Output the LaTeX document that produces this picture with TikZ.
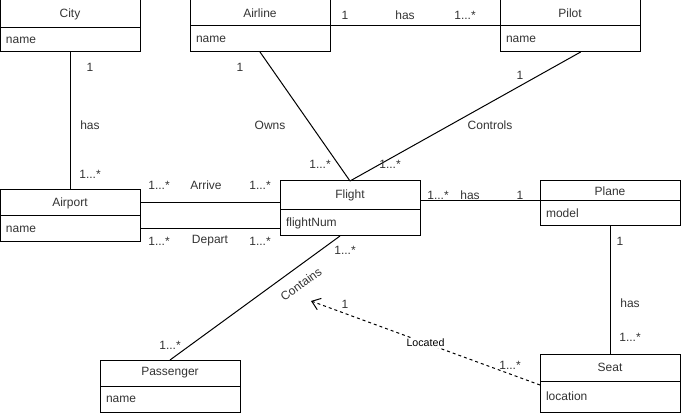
\documentclass[tikz,border=0pt]{standalone}
\usepackage{fontspec}
\setmainfont{Liberation Sans}
\usetikzlibrary{positioning,arrows.meta}

\tikzset{
  classhead/.style={draw, rectangle, minimum width=105pt, minimum height=19.5pt,
    inner sep=0pt, outer sep=0pt, anchor=north west},
  classbody/.style={draw, rectangle, minimum width=105pt, minimum height=19.5pt,
    text width=96pt, align=left, inner xsep=4.5pt, inner ysep=0pt, outer sep=0pt},
  assoc/.style={draw, line width=0.75pt},
}

\begin{document}
\begin{tikzpicture}[x=0.75pt, y=-0.75pt, line width=0.75pt,
    font=\fontsize{9}{11}\selectfont, text=black!80]
  \useasboundingbox (0,0) rectangle (681,416);

  % classes
  \draw (0,0) node[classhead, minimum height=21pt] (city) {City};
  \node[classbody, minimum height=18pt, below=0pt of city] (cityname) {name};
  \draw (190,0) node[classhead] (airline) {Airline};
  \node[classbody, below=0pt of airline] (airlinename) {name};
  \draw (500,0) node[classhead] (pilot) {Pilot};
  \node[classbody, below=0pt of pilot] (pilotname) {name};
  \draw (0,190) node[classhead] (airport) {Airport};
  \node[classbody, below=0pt of airport] (airportname) {name};
  \draw (280,181) node[classhead, minimum height=21.75pt] (flight) {Flight};
  \node[classbody, below=0pt of flight] (flightnum) {flightNum};
  \draw (540,181) node[classhead, minimum height=15pt] (plane) {Plane};
  \node[classbody, minimum height=18.75pt, below=0pt of plane] (planemodel) {model};
  \draw (100,360) node[classhead] (passenger) {Passenger};
  \node[classbody, below=0pt of passenger] (passengername) {name};
  \draw (540,354) node[classhead, minimum height=20.25pt] (seat) {Seat};
  \node[classbody, minimum height=23.25pt, below=0pt of seat] (seatloc) {location};

  % associations
  \path[assoc] (cityname) edge (airport);
  \path[assoc] (airline.south east) edge (pilot.south west);
  \path[assoc] (airlinename.south) edge (flight.north);
  \path[assoc] ([xshift=8pt]pilotname.south) edge (flight.north);
  \path[assoc] (airport.east) edge (airport.east -| flight.west);
  \path[assoc] (airportname.east) edge (airportname.east -| flight.west);
  \path[assoc] (plane.south west -| flight.east) edge (plane.south west);
  \path[assoc] (planemodel.south) edge (seat.north);
  \path[assoc] ([xshift=-7.5pt]flightnum.south) edge (passenger.north);

  \coordinate (lochead) at (311,301);
  \draw[dashed, dash pattern=on 2.25pt off 2.25pt,
        -{Straight Barb[length=6pt, width=9pt]}]
    ([yshift=-3pt]seat.south west) -- node[fill=white, inner sep=1pt, text=black,
      font=\fontsize{8}{10}\selectfont] (located) {Located} (lochead);

  % labels
  \draw (90,67) node (cityone) {1};
  \draw (90,125) node (cityhas) {has};
  \draw (90,174) node (airportmany) {1...*};
  \draw (240,67) node (airlineone) {1};
  \draw (270,125) node (owns) {Owns};
  \draw (320,164) node (ownsmany) {1...*};
  \draw (345,15) node (employone) {1};
  \draw (405,15) node (employhas) {has};
  \draw (465,15) node (employmany) {1...*};
  \draw (520,75) node (pilotone) {1};
  \draw (490,125) node (controls) {Controls};
  \draw (390,164) node (controlsmany) {1...*};
  \draw (159,185) node (arrivemany) {1...*};
  \draw (206,185) node (arrive) {Arrive};
  \draw (260,185) node (arriveflight) {1...*};
  \draw (159,241) node (departmany) {1...*};
  \draw (210,241) node (depart) {Depart};
  \draw (260,241) node (departflight) {1...*};
  \draw (438,195) node (flightmany) {1...*};
  \draw (470,195) node (planehas) {has};
  \draw (520,195) node (planeone) {1};
  \draw (620,241) node (planeseatone) {1};
  \draw (630,303) node (seathas) {has};
  \draw (630,337) node (seatmany) {1...*};
  \draw (345,250) node (containsmany) {1...*};
  \draw (301,284) node[rotate=36, inner sep=0pt] (contains) {Contains};
  \draw (170,345) node (passengermany) {1...*};
  \draw (345,304) node (locatedone) {1};
  \draw (510,365) node (locatedmany) {1...*};
\end{tikzpicture}
\end{document}
